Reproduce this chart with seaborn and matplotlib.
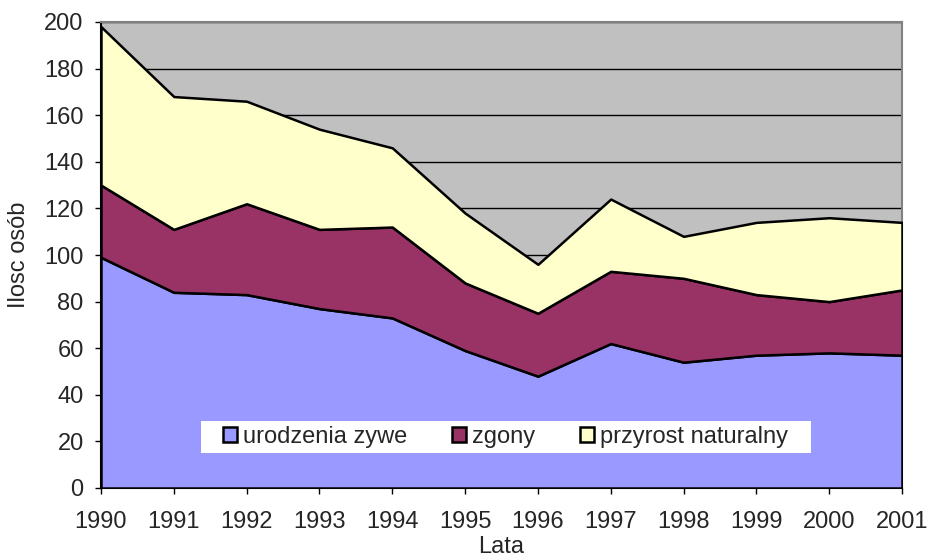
import numpy as np
import pandas as pd
import matplotlib
matplotlib.use("Agg")
import matplotlib.pyplot as plt
import seaborn as sns
from matplotlib.patches import Patch, Rectangle

years = [1990, 1991, 1992, 1993, 1994, 1995, 1996, 1997, 1998, 1999, 2000, 2001]
urodzenia = [99, 84, 83, 77, 73, 59, 48, 62, 54, 57, 58, 57]
zgony = [31, 27, 39, 34, 39, 29, 27, 31, 36, 26, 22, 28]
przyrost = [68, 57, 44, 43, 34, 30, 21, 31, 18, 31, 36, 29]

labels = ["urodzenia zywe", "zgony", "przyrost naturalny"]
colors = ["#9999FF", "#993366", "#FFFFCC"]

df = pd.DataFrame({"Lata": years, labels[0]: urodzenia, labels[1]: zgony, labels[2]: przyrost})

sns.set_style("white")
plt.rcParams["font.family"] = ["Liberation Sans", "DejaVu Sans"]
fs = 17

fig = plt.figure(figsize=(9.32, 5.6), dpi=100)
ax = fig.add_axes([101 / 932, 1 - 488 / 560, 801 / 932, 466 / 560])
ax.set_facecolor("#C0C0C0")

ax.stackplot(df["Lata"], df[labels[0]], df[labels[1]], df[labels[2]],
             colors=colors, edgecolor="black", linewidth=1.8, zorder=3)

ax.set_xlim(years[0], years[-1])
ax.set_ylim(0, 200)
ax.set_yticks(np.arange(0, 201, 20))
ax.set_xticks(years)
ax.yaxis.grid(True, color="black", linewidth=1)
ax.set_axisbelow(True)

ax.tick_params(axis="both", which="both", direction="out", length=4.5, width=1,
               color="black", labelsize=fs, left=True, bottom=True)
ax.tick_params(axis="y", pad=8)
ax.tick_params(axis="x", pad=12)

for side in ["left", "bottom"]:
    ax.spines[side].set_color("black")
    ax.spines[side].set_linewidth(1.5)
for side in ["top", "right"]:
    ax.spines[side].set_color("#808080")
    ax.spines[side].set_linewidth(1.5)

ax.set_xlabel("Lata", fontsize=fs, labelpad=2)
ax.set_ylabel("Ilosc osób", fontsize=fs, labelpad=10)

# white legend box (wider than the legend itself)
ax.add_patch(Rectangle((0.125, 0.075), 0.761, 0.069, transform=ax.transAxes,
                       facecolor="white", edgecolor="none", zorder=4))

handles = [Patch(facecolor=c, edgecolor="black", linewidth=1.8) for c in colors]
leg = ax.legend(handles, labels, loc="center", bbox_to_anchor=(0.505, 0.109), ncol=3,
                fontsize=fs, frameon=False, handlelength=0.6,
                handleheight=0.6, handletextpad=0.25, columnspacing=1.9,
                borderpad=0.25, borderaxespad=0)
leg.set_zorder(5)

fig.savefig("out.png", dpi=100)
